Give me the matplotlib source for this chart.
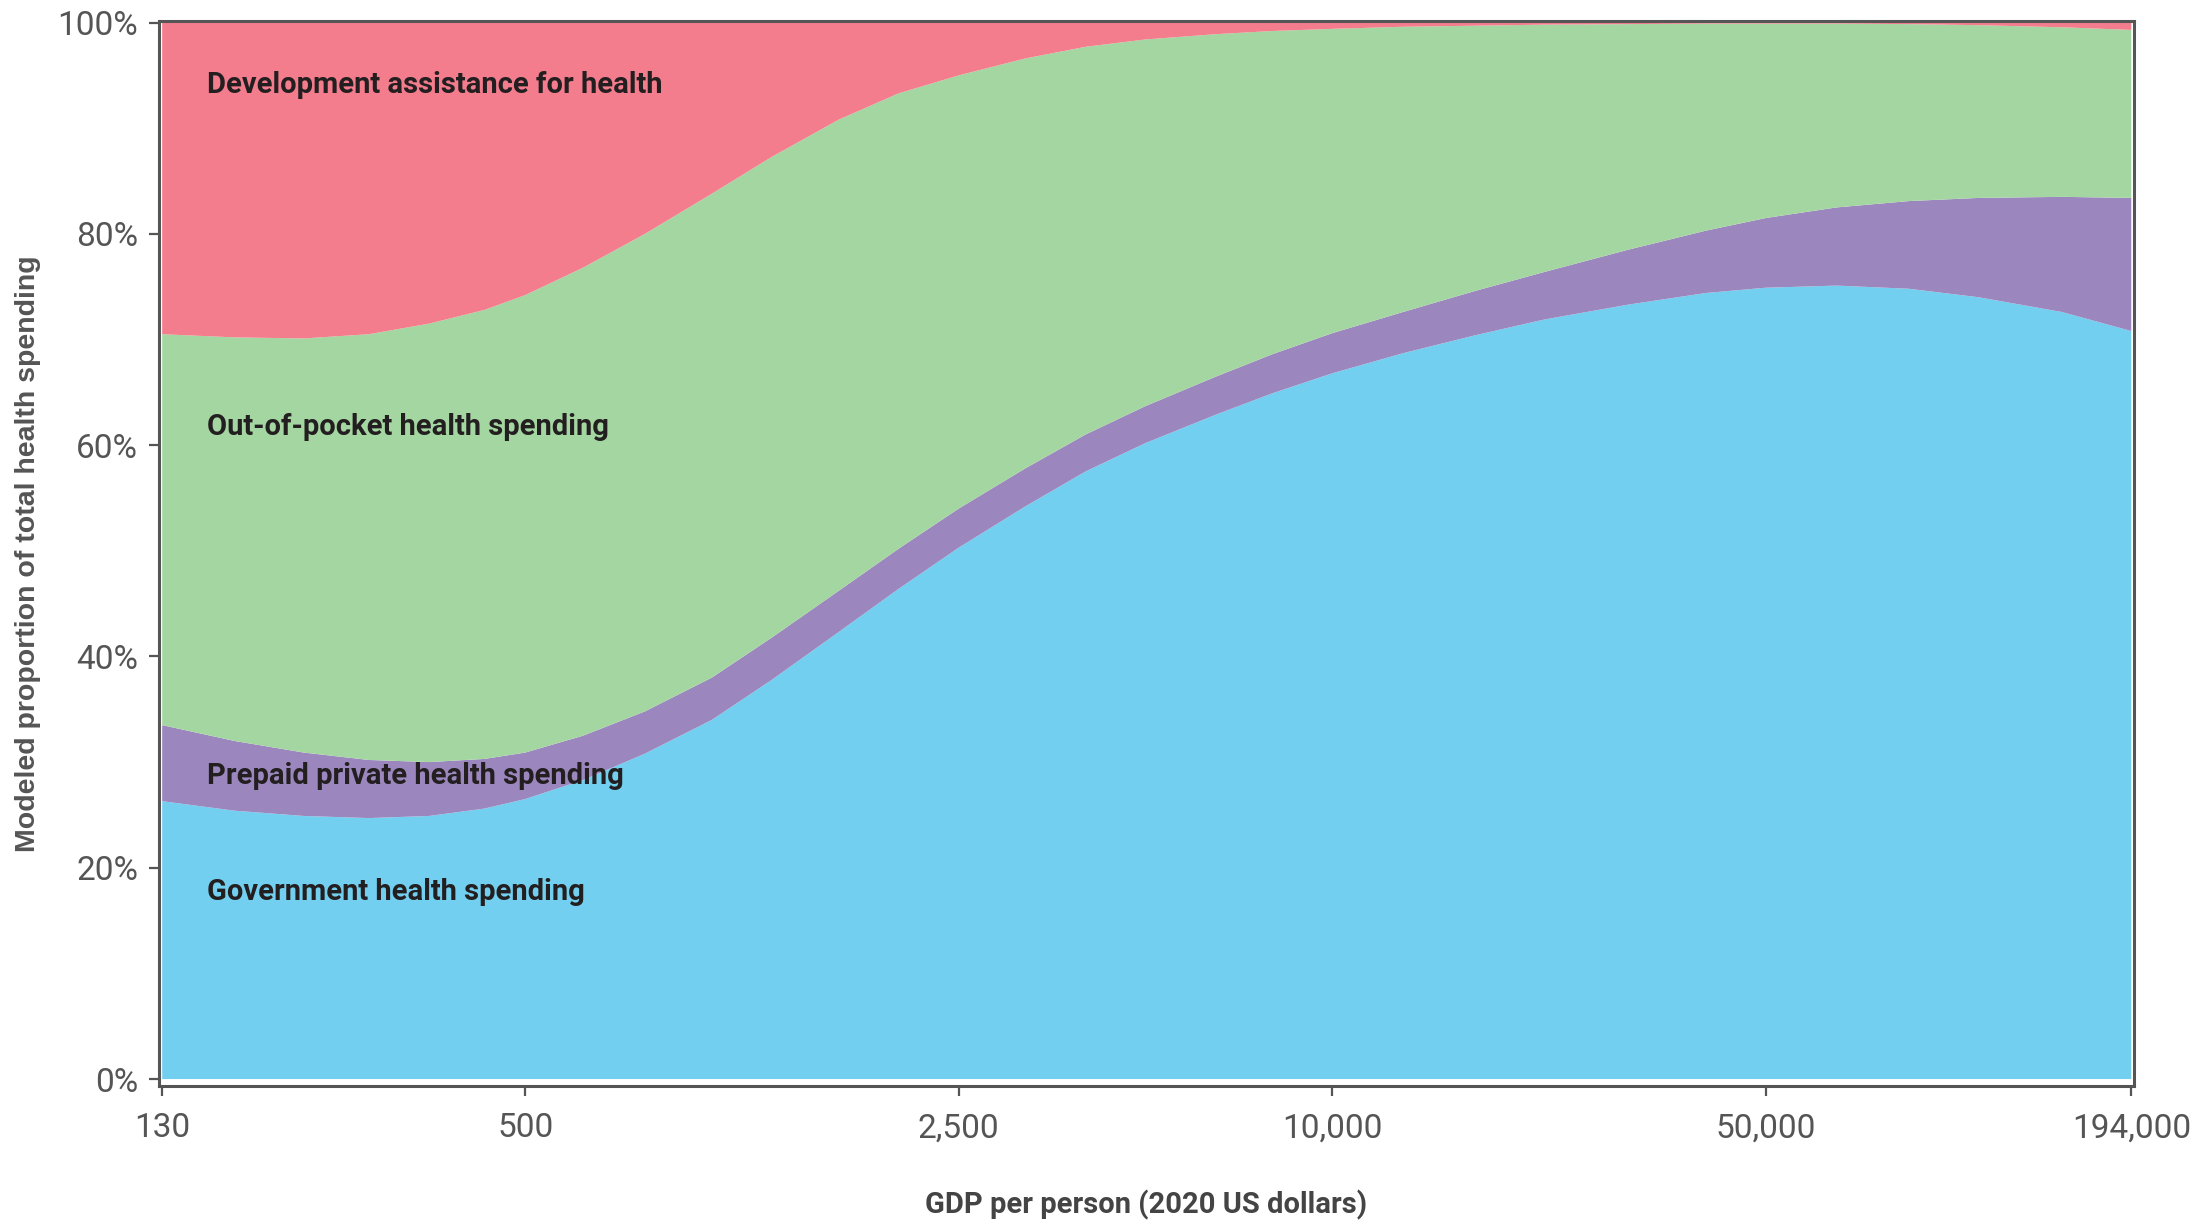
import matplotlib
matplotlib.use("Agg")
import matplotlib.pyplot as plt
import numpy as np
from matplotlib.ticker import FixedLocator, NullLocator

# GDP per person (2020 US$) sample points
gdp = [130, 170, 220, 280, 350, 430, 500, 620, 780, 1000, 1250, 1600, 2000,
       2500, 3200, 4000, 5000, 6500, 8000, 10000, 13000, 17000, 22000, 30000,
       40000, 50000, 65000, 85000, 110000, 150000, 194000]

# modeled shares of total health spending (%)
government = [26.3, 25.4, 24.9, 24.7, 24.9, 25.6, 26.5, 28.3, 30.8, 34.0, 37.8,
              42.3, 46.4, 50.3, 54.2, 57.5, 60.2, 62.9, 64.9, 66.8, 68.7, 70.4,
              71.9, 73.3, 74.4, 74.9, 75.1, 74.8, 74.0, 72.6, 70.8]
prepaid_private = [7.2, 6.6, 6.0, 5.5, 5.1, 4.7, 4.4, 4.2, 4.0, 4.0, 4.0, 3.9,
                   3.8, 3.7, 3.6, 3.5, 3.5, 3.6, 3.7, 3.8, 3.9, 4.2, 4.5, 5.2,
                   5.9, 6.6, 7.4, 8.3, 9.4, 10.9, 12.6]
out_of_pocket = [37.0, 38.2, 39.2, 40.3, 41.5, 42.5, 43.3, 44.3, 45.2, 45.8,
                 45.5, 44.6, 43.1, 41.0, 38.8, 36.7, 34.7, 32.4, 30.6, 28.8,
                 27.0, 25.1, 23.4, 21.35, 19.6, 18.4, 17.4, 16.75, 16.35,
                 16.05, 15.9]
dev_assistance = [29.5, 29.8, 29.9, 29.5, 28.5, 27.2, 25.8, 23.2, 20.0, 16.2,
                  12.7, 9.2, 6.7, 5.0, 3.4, 2.3, 1.6, 1.1, 0.8, 0.6, 0.4, 0.3,
                  0.2, 0.15, 0.1, 0.1, 0.1, 0.15, 0.25, 0.45, 0.7]

series_names = ["Government health spending", "Prepaid private health spending",
                "Out-of-pocket health spending", "Development assistance for health"]
label_y = [17.7, 28.7, 61.7, 94.1]

x_ticks = [130, 500, 2500, 10000, 50000, 194000]
x_tick_labels = ["130", "500", "2,500", "10,000", "50,000", "194,000"]
y_ticks = [0, 20, 40, 60, 80, 100]

colors = ["#73CFEF", "#9B87BE", "#A4D6A1", "#F37C8D"]
narrow = ["Roboto", "DejaVu Sans"]
grey = "#555555"

fig = plt.figure(figsize=(22.03, 12.32), dpi=100)
ax = fig.add_axes([0.0722, 0.1185, 0.8965, 0.8645])

ax.stackplot(gdp, government, prepaid_private, out_of_pocket, dev_assistance,
             colors=colors, linewidth=0)

ax.set_xscale("log")
ax.set_xlim(128.5, 196000)
ax.set_ylim(-0.66, 100.15)

ax.xaxis.set_major_locator(FixedLocator(x_ticks))
ax.xaxis.set_minor_locator(NullLocator())
ax.set_xticklabels(x_tick_labels)
ax.set_yticks(y_ticks)
ax.set_yticklabels([f"{v}%" for v in y_ticks])

for lbl in ax.get_xticklabels() + ax.get_yticklabels():
    lbl.set_family(narrow)
    lbl.set_fontsize(24)
    lbl.set_color(grey)

ax.tick_params(axis="both", length=7, width=1.6, color=grey)
ax.tick_params(axis="x", pad=12)
ax.tick_params(axis="y", pad=8)

for sp in ax.spines.values():
    sp.set_color(grey)
    sp.set_linewidth(2.2)

for name, yv in zip(series_names, label_y):
    ax.text(153.6, yv, name, family=narrow, fontweight="bold", fontsize=21,
            color="#231F20", va="center", ha="left")

ax.set_xlabel("GDP per person (2020 US dollars)", family=narrow,
              fontweight="bold", fontsize=21, color="#444444", labelpad=33)
ax.set_ylabel("Modeled proportion of total health spending",
              family="Liberation Sans", fontweight="bold", fontsize=20.5,
              color=grey, labelpad=12)

fig.savefig("out.png", dpi=100)
